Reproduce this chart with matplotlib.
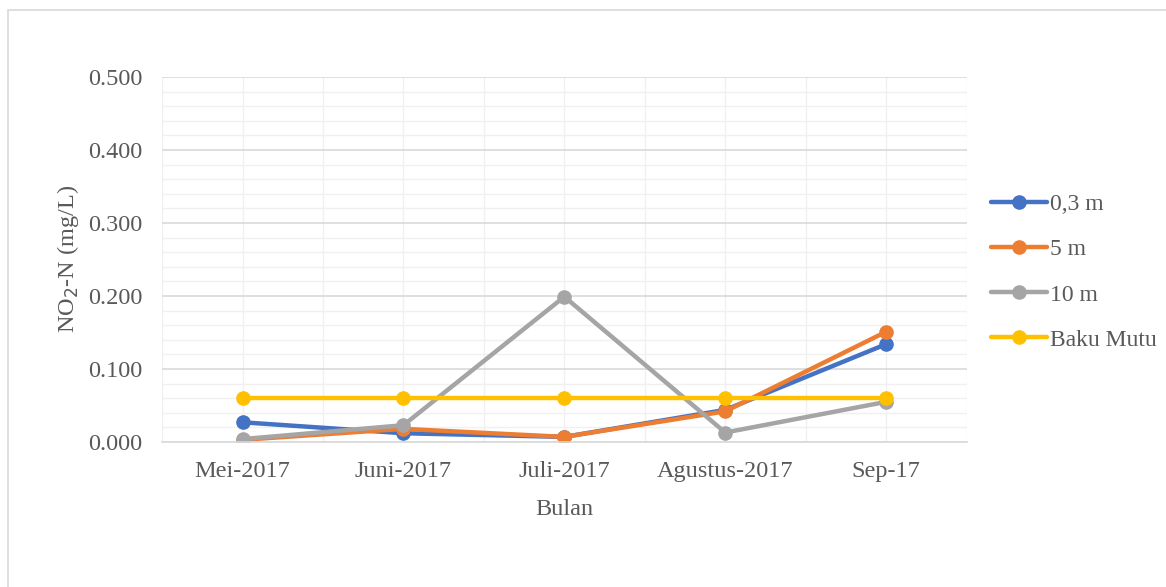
import numpy as np
import matplotlib.pyplot as plt
from matplotlib.patches import Rectangle
from matplotlib.ticker import MultipleLocator

plt.rcParams['font.family'] = ['Liberation Serif', 'DejaVu Serif']

bulan = ['Mei-2017', 'Juni-2017', 'Juli-2017', 'Agustus-2017', 'Sep-17']
no2_03m = [0.027, 0.012, 0.007, 0.044, 0.134]
no2_5m = [0.003, 0.018, 0.007, 0.042, 0.151]
no2_10m = [0.004, 0.023, 0.199, 0.013, 0.055]
baku_mutu = [0.06, 0.06, 0.06, 0.06, 0.06]

series = [
    ('0,3 m', no2_03m, '#4472c4'),
    ('5 m', no2_5m, '#ed7d31'),
    ('10 m', no2_10m, '#a5a5a5'),
    ('Baku Mutu', baku_mutu, '#ffc000'),
]

fig = plt.figure(figsize=(11.66, 5.87), dpi=100)
ax = fig.add_axes([0.139, 0.247, 0.69, 0.622])

# chart area border
fig.patches.append(Rectangle((8 / 1166, -0.1), 1.2, 1.1 - 10 / 587,
                             transform=fig.transFigure, fill=False,
                             edgecolor='#d9d9d9', linewidth=1.2))

x = np.arange(len(bulan))
for label, vals, color in series:
    ax.plot(x, vals, color=color, linewidth=3.2, marker='o', markersize=9.5,
            label=label, solid_capstyle='round')

ax.set_xlim(-0.5, len(bulan) - 0.5)
ax.set_ylim(0, 0.5)
ax.set_xticks(x)
ax.set_xticklabels(bulan)
ax.xaxis.set_minor_locator(MultipleLocator(0.5))
ax.yaxis.set_major_locator(MultipleLocator(0.1))
ax.yaxis.set_minor_locator(MultipleLocator(0.02))
ax.yaxis.set_major_formatter(lambda v, p: f'{v:.3f}')

ax.grid(which='major', axis='y', color='#d9d9d9', linewidth=1.2)
ax.grid(which='minor', axis='y', color='#f0f0f0', linewidth=1.0)
ax.grid(which='both', axis='x', color='#f0f0f0', linewidth=1.0)
ax.set_axisbelow(True)

for side in ['top', 'right', 'left']:
    ax.spines[side].set_visible(False)
ax.spines['bottom'].set_color('#d9d9d9')
ax.spines['bottom'].set_linewidth(1.2)
ax.tick_params(which='both', length=0, labelsize=17.5, colors='#595959')
ax.tick_params(axis='y', pad=14)
ax.tick_params(axis='x', pad=14)

ax.set_xlabel('Bulan', fontsize=17.5, color='#595959', labelpad=12)
ax.set_ylabel('NO$_2$-N (mg/L)', fontsize=17.5, color='#595959', labelpad=5)

ax.legend(loc='center left', bbox_to_anchor=(1.018, 0.465), frameon=False,
          fontsize=17, labelcolor='#595959', handlelength=2.4,
          handletextpad=0.1, labelspacing=1.0, borderaxespad=0)

fig.savefig('out.png', dpi=100)
